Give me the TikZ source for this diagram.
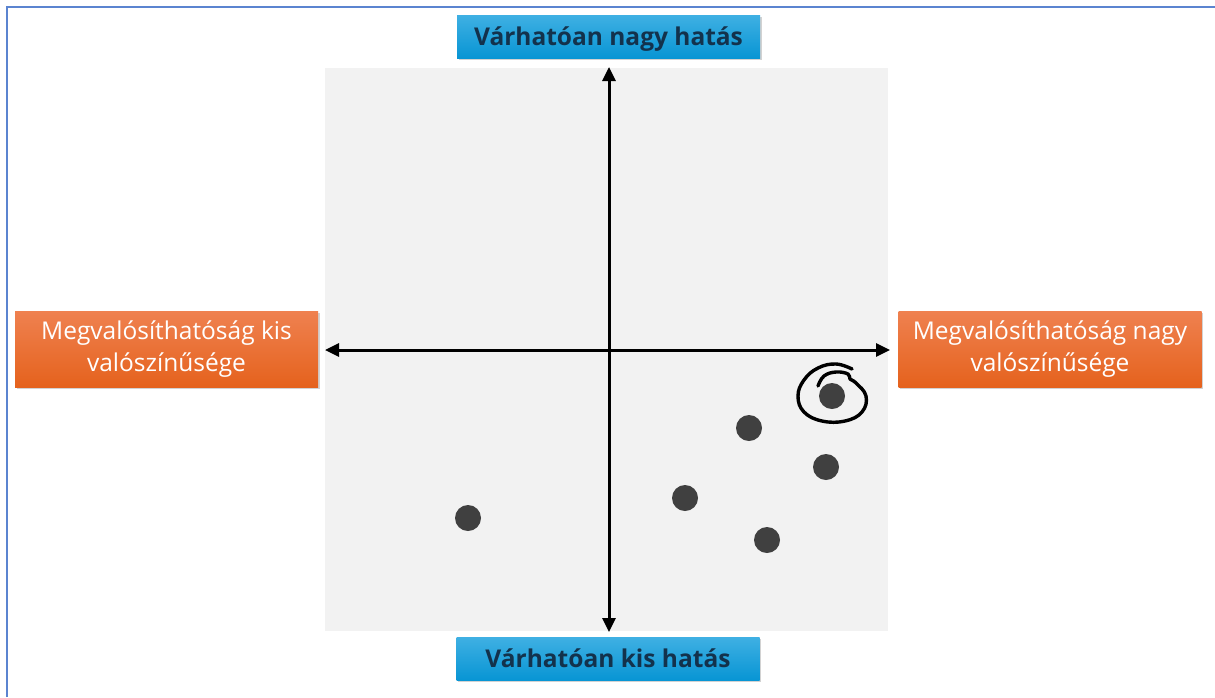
\documentclass[tikz,border=0pt]{standalone}
\usepackage{fontspec}
\setmainfont{Open Sans}
\usetikzlibrary{shadows,arrows.meta}
\definecolor{frameblue}{HTML}{5B84D0}
\definecolor{bgray}{HTML}{F2F2F2}
\definecolor{bluetop}{HTML}{3FB0E3}
\definecolor{bluebot}{HTML}{0895D4}
\definecolor{navytext}{HTML}{13324C}
\definecolor{orangetop}{HTML}{EF8150}
\definecolor{orangebot}{HTML}{E5621D}
\definecolor{dotgray}{HTML}{404040}
\begin{document}
\begin{tikzpicture}[x=1pt,y=-1pt,
  bluebox/.style={minimum width=303pt,minimum height=43pt,top color=bluetop,bottom color=bluebot,
    text=navytext,font=\fontsize{24.5}{26}\selectfont\bfseries,inner sep=0pt,
    text height=18pt,text depth=0pt,
    drop shadow={shadow xshift=1.5pt,shadow yshift=-2pt,opacity=0.35}},
  orangebox/.style={minimum width=303pt,minimum height=76pt,top color=orangetop,bottom color=orangebot,
    text=white,font=\fontsize{24.5}{32}\selectfont,align=center,inner sep=0pt,
    drop shadow={shadow xshift=1.5pt,shadow yshift=-2pt,opacity=0.35}},
  dot/.style={circle,fill=dotgray,minimum size=26pt,inner sep=0pt},
  axis/.style={line width=3pt,{Triangle[length=14pt,width=13pt]}-{Triangle[length=14pt,width=13pt]}}]
\useasboundingbox (0,0) rectangle (1215,697);
\fill[white] (0,0) rectangle (1215,697);
\draw[frameblue,line width=2pt] (7,697) -- (7,7) -- (1215,7);
\fill[bgray] (325,68) rectangle (888,631);
\coordinate (top) at (609,67);
\coordinate (bot) at (609,632);
\coordinate (lft) at (325,350);
\coordinate (rgt) at (890,350);
\draw[axis] (top) -- (bot);
\draw[axis] (lft) -- (rgt);
\node[bluebox] (tb) at (608.5,36.5) {Várhatóan nagy hatás};
\node[bluebox] (bb) at (608,658.5) {Várhatóan kis hatás};
\node[orangebox] (lb) at (166.5,349) {\raisebox{-3pt}{\begin{tabular}{@{}c@{}}Megvalósíthatóság kis\\valószínűsége\end{tabular}}};
\node[orangebox] (rb) at (1050,349) {\raisebox{-3pt}{\begin{tabular}{@{}c@{}}Megvalósíthatóság nagy\\valószínűsége\end{tabular}}};
\node[dot] (d1) at (832,396) {};
\node[dot] (d2) at (749,428) {};
\node[dot] (d3) at (826,467) {};
\node[dot] (d4) at (685,498) {};
\node[dot] (d5) at (767,540) {};
\node[dot] (d6) at (468,518) {};
\draw[line width=3.4pt,line cap=round,line join=round] plot[smooth,tension=0.7] coordinates {
  (818,386) (824,376) (836,372) (848,374) (850,379) (856,383) (866,396) (862,412) (845,421) (822,421) (804,412) (798,396) (804,380) (818,368) (836,364) (852,369)};
\end{tikzpicture}
\end{document}
